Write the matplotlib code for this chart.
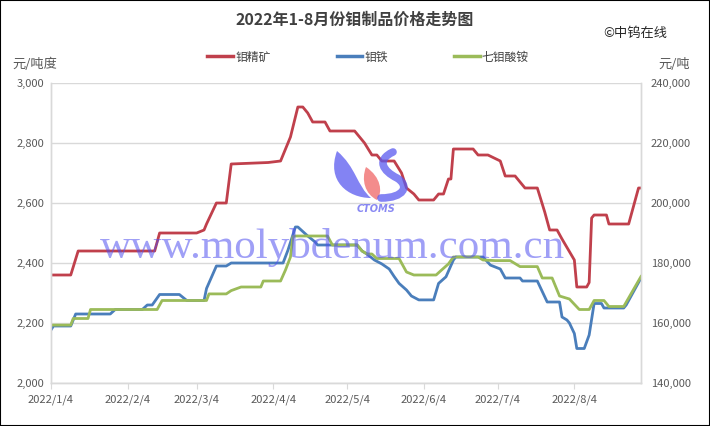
import numpy as np
import pandas as pd
import matplotlib
matplotlib.use('Agg')
import matplotlib.pyplot as plt
from matplotlib.lines import Line2D
from matplotlib.path import Path
from matplotlib.patches import PathPatch, Rectangle

plt.rcParams['font.family'] = ['Noto Sans CJK SC', 'DejaVu Sans']

# 钼精矿 (元/吨度, left axis)
conc_dates = ['2022-01-04', '2022-01-12', '2022-01-15', '2022-02-15', '2022-02-17', '2022-03-04',
              '2022-03-07', '2022-03-08', '2022-03-12', '2022-03-16', '2022-03-18', '2022-04-02',
              '2022-04-07', '2022-04-11', '2022-04-14', '2022-04-16', '2022-04-18', '2022-04-20',
              '2022-04-25', '2022-04-27', '2022-05-07', '2022-05-11', '2022-05-14', '2022-05-16',
              '2022-05-18', '2022-05-23', '2022-05-26', '2022-05-28', '2022-05-31', '2022-06-02',
              '2022-06-08', '2022-06-10', '2022-06-12', '2022-06-14', '2022-06-15', '2022-06-16',
              '2022-06-24', '2022-06-26', '2022-06-30', '2022-07-05', '2022-07-07', '2022-07-11',
              '2022-07-13', '2022-07-15', '2022-07-20', '2022-07-23', '2022-07-25', '2022-07-28',
              '2022-07-30', '2022-08-04', '2022-08-05', '2022-08-09', '2022-08-10', '2022-08-11',
              '2022-08-12', '2022-08-17', '2022-08-18', '2022-08-26', '2022-08-30', '2022-08-31']
conc_vals = [2360, 2360, 2440, 2440, 2500, 2500,
             2510, 2530, 2600, 2600, 2730, 2735,
             2740, 2820, 2920, 2920, 2900, 2870,
             2870, 2840, 2840, 2800, 2760, 2760,
             2740, 2740, 2700, 2650, 2630, 2610,
             2610, 2630, 2630, 2680, 2680, 2780,
             2780, 2760, 2760, 2740, 2690, 2690,
             2670, 2650, 2650, 2570, 2510, 2510,
             2480, 2410, 2320, 2320, 2335, 2550,
             2560, 2560, 2530, 2530, 2650, 2650]

# 钼铁 (元/吨, right axis)
feMo_dates = ['2022-01-04', '2022-01-05', '2022-01-12', '2022-01-14', '2022-01-28', '2022-01-30',
              '2022-02-10', '2022-02-12', '2022-02-14', '2022-02-17', '2022-02-25', '2022-02-28',
              '2022-03-07', '2022-03-08', '2022-03-12', '2022-03-16', '2022-03-18', '2022-04-08',
              '2022-04-10', '2022-04-13', '2022-04-14', '2022-04-18', '2022-04-21', '2022-04-22',
              '2022-05-08', '2022-05-10', '2022-05-12', '2022-05-15', '2022-05-18', '2022-05-21',
              '2022-05-23', '2022-05-25', '2022-05-28', '2022-05-30', '2022-06-02', '2022-06-08',
              '2022-06-10', '2022-06-13', '2022-06-16', '2022-06-17', '2022-06-28', '2022-07-01',
              '2022-07-05', '2022-07-07', '2022-07-13', '2022-07-14', '2022-07-20', '2022-07-22',
              '2022-07-24', '2022-07-29', '2022-07-30', '2022-08-01', '2022-08-02', '2022-08-04',
              '2022-08-05', '2022-08-08', '2022-08-10', '2022-08-12', '2022-08-15', '2022-08-16',
              '2022-08-24', '2022-08-25', '2022-08-31']
feMo_vals = [157700, 159000, 159000, 163000, 163000, 164500,
             164500, 166000, 166000, 169500, 169500, 167500,
             167500, 171500, 179000, 179000, 180000, 180000,
             184300, 192000, 192000, 189000, 187000, 186000,
             186000, 184000, 183000, 181000, 179700, 178000,
             175500, 173200, 171000, 169000, 167700, 167700,
             173200, 175400, 181000, 182000, 182000, 179300,
             178000, 175000, 175000, 174000, 174000, 170500,
             167000, 167000, 162000, 161000, 160000, 156500,
             151500, 151500, 156000, 166500, 166500, 165000,
             165000, 166000, 175000]

# 七钼酸铵 (元/吨, right axis)
apm_dates = ['2022-01-04', '2022-01-12', '2022-01-13', '2022-01-19', '2022-01-20', '2022-02-16',
             '2022-02-18', '2022-03-08', '2022-03-09', '2022-03-16', '2022-03-18', '2022-03-22',
             '2022-03-30', '2022-03-31', '2022-04-07', '2022-04-09', '2022-04-11', '2022-04-12',
             '2022-04-13', '2022-04-26', '2022-04-28', '2022-05-08', '2022-05-10', '2022-05-12',
             '2022-05-14', '2022-05-16', '2022-05-25', '2022-05-28', '2022-05-31', '2022-06-09',
             '2022-06-11', '2022-06-14', '2022-06-16', '2022-06-26', '2022-06-28', '2022-07-03',
             '2022-07-09', '2022-07-12', '2022-07-13', '2022-07-20', '2022-07-22', '2022-07-26',
             '2022-07-29', '2022-08-02', '2022-08-06', '2022-08-10', '2022-08-12', '2022-08-16',
             '2022-08-18', '2022-08-24', '2022-08-31']
apm_vals = [159300, 159300, 161500, 161500, 164500, 164500,
            167500, 167500, 169700, 169700, 170800, 172000,
            172000, 174000, 174000, 177700, 182000, 188800,
            189000, 189000, 186000, 186000, 184000, 183000,
            183000, 181500, 181500, 177000, 176000, 176000,
            177500, 179700, 182000, 182000, 181000, 180800,
            180800, 179300, 178800, 178800, 175000, 175000,
            169000, 168000, 164500, 164500, 167500, 167500,
            165500, 165500, 175500]

tick_dates = ['2022-01-04', '2022-02-04', '2022-03-04', '2022-04-04',
              '2022-05-04', '2022-06-04', '2022-07-04', '2022-08-04']

c_red = '#C0404C'
c_blue = '#4A7EBB'
c_green = '#9BBB59'
c_text = '#595959'
c_grid = '#D9D9D9'

fig = plt.figure(figsize=(7.10, 4.26), dpi=100)
ax = fig.add_axes([51/710, 1-383/426, 590/710, 300/426])
ax2 = ax.twinx()

ax.plot(pd.to_datetime(conc_dates), conc_vals, color=c_red, lw=2.0, solid_joinstyle='round')
ax2.plot(pd.to_datetime(feMo_dates), feMo_vals, color=c_blue, lw=2.0, solid_joinstyle='round')
ax2.plot(pd.to_datetime(apm_dates), apm_vals, color=c_green, lw=2.0, solid_joinstyle='round')

ax.set_ylim(2000, 3000)
ax.set_yticks(np.arange(2000, 3001, 200))
ax2.set_ylim(140000, 240000)
ax2.set_yticks(np.arange(140000, 240001, 20000))
ax.yaxis.set_major_formatter(matplotlib.ticker.FuncFormatter(lambda v, p: f'{int(v):,}'))
ax2.yaxis.set_major_formatter(matplotlib.ticker.FuncFormatter(lambda v, p: f'{int(v):,}'))

ax.set_xlim(pd.Timestamp('2022-01-04'), pd.Timestamp('2022-08-31'))
ticks = pd.to_datetime(tick_dates)
ax.set_xticks(ticks)
ax.set_xticklabels([f'{d.year}/{d.month}/{d.day}' for d in ticks])

ax.grid(axis='y', color=c_grid, lw=1.0)
ax.set_axisbelow(True)
for a in (ax, ax2):
    for s in a.spines.values():
        s.set_color(c_grid)
        s.set_linewidth(1.0)
    a.spines['top'].set_visible(False)
ax.tick_params(axis='y', length=0, labelsize=8, labelcolor=c_text, pad=5)
ax2.tick_params(axis='y', length=0, labelsize=8, labelcolor=c_text, pad=7)
ax.tick_params(axis='x', length=4, color=c_grid, labelsize=8, labelcolor=c_text, pad=4)

# titles and units
fig.text(355/710, 1-20/426, '2022年1-8月份钼制品价格走势图', ha='center', va='center',
         fontsize=11.5, fontweight='bold', color='#404040')
fig.text(635/710, 1-33/426, '©中钨在线', ha='center', va='center', fontsize=9.5, color='#262626')
fig.text(12/710, 1-64/426, '元/吨度', ha='left', va='center', fontsize=9.5, color=c_text)
fig.text(690/710, 1-64/426, '元/吨', ha='right', va='center', fontsize=9.5, color=c_text)

handles = [Line2D([], [], color=c_red, lw=2.5),
           Line2D([], [], color=c_blue, lw=2.5),
           Line2D([], [], color=c_green, lw=2.5)]
fig.legend(handles, ['钼精矿', '钼铁', '七钼酸铵'], ncol=3, loc='center',
           bbox_to_anchor=(368/710, 1-57/426), frameon=False, fontsize=8.5,
           handlelength=2.2, handletextpad=0.15, columnspacing=5.6, labelcolor='#404040')

# watermark: logo + site url
def px(pts):
    return [(x/710, 1-y/426) for x, y in pts]

C = Path.CURVE4
# left blue crescent
crescent = Path(px([(337, 151), (326, 181), (348, 198), (371, 198),
                    (357, 186), (356, 167), (337, 151)]),
                [Path.MOVETO, C, C, C, C, C, C])
fig.patches.append(PathPatch(crescent, transform=fig.transFigure, facecolor='#5A5AF0',
                             edgecolor='none', alpha=0.75, zorder=5))
# pink flame
flame = Path(px([(366, 167), (381, 177), (383, 192), (377, 200),
                 (365, 194), (361, 180), (366, 167)]),
             [Path.MOVETO, C, C, C, C, C, C])
fig.patches.append(PathPatch(flame, transform=fig.transFigure, facecolor='#F07070',
                             edgecolor='none', alpha=0.8, zorder=5))
# right blue "S"
s_curve = Path(px([(393, 152), (376, 160), (383, 171), (397, 178),
                   (410, 186), (404, 198), (381, 198)]),
               [Path.MOVETO, C, C, C, C, C, C])
fig.patches.append(PathPatch(s_curve, transform=fig.transFigure, facecolor='none',
                             edgecolor='#5A5AF0', lw=5.5, capstyle='round', alpha=0.75, zorder=5))

fig.text(332/710, 1-258/426, 'www.molybdenum.com.cn', ha='center', va='baseline',
         fontsize=31, family='Liberation Serif', color='#5050F0', alpha=0.55)
fig.text(376/710, 1-209/426, 'CTOMS', ha='center', va='center', fontsize=7,
         fontweight='bold', style='italic', family='DejaVu Sans', color='#6A6AF0', alpha=0.8)

# outer frame
fig.patches.append(Rectangle((0, 0), 1, 1, transform=fig.transFigure,
                             fill=False, edgecolor='black', lw=1.5))

fig.savefig('out.png', dpi=100)
